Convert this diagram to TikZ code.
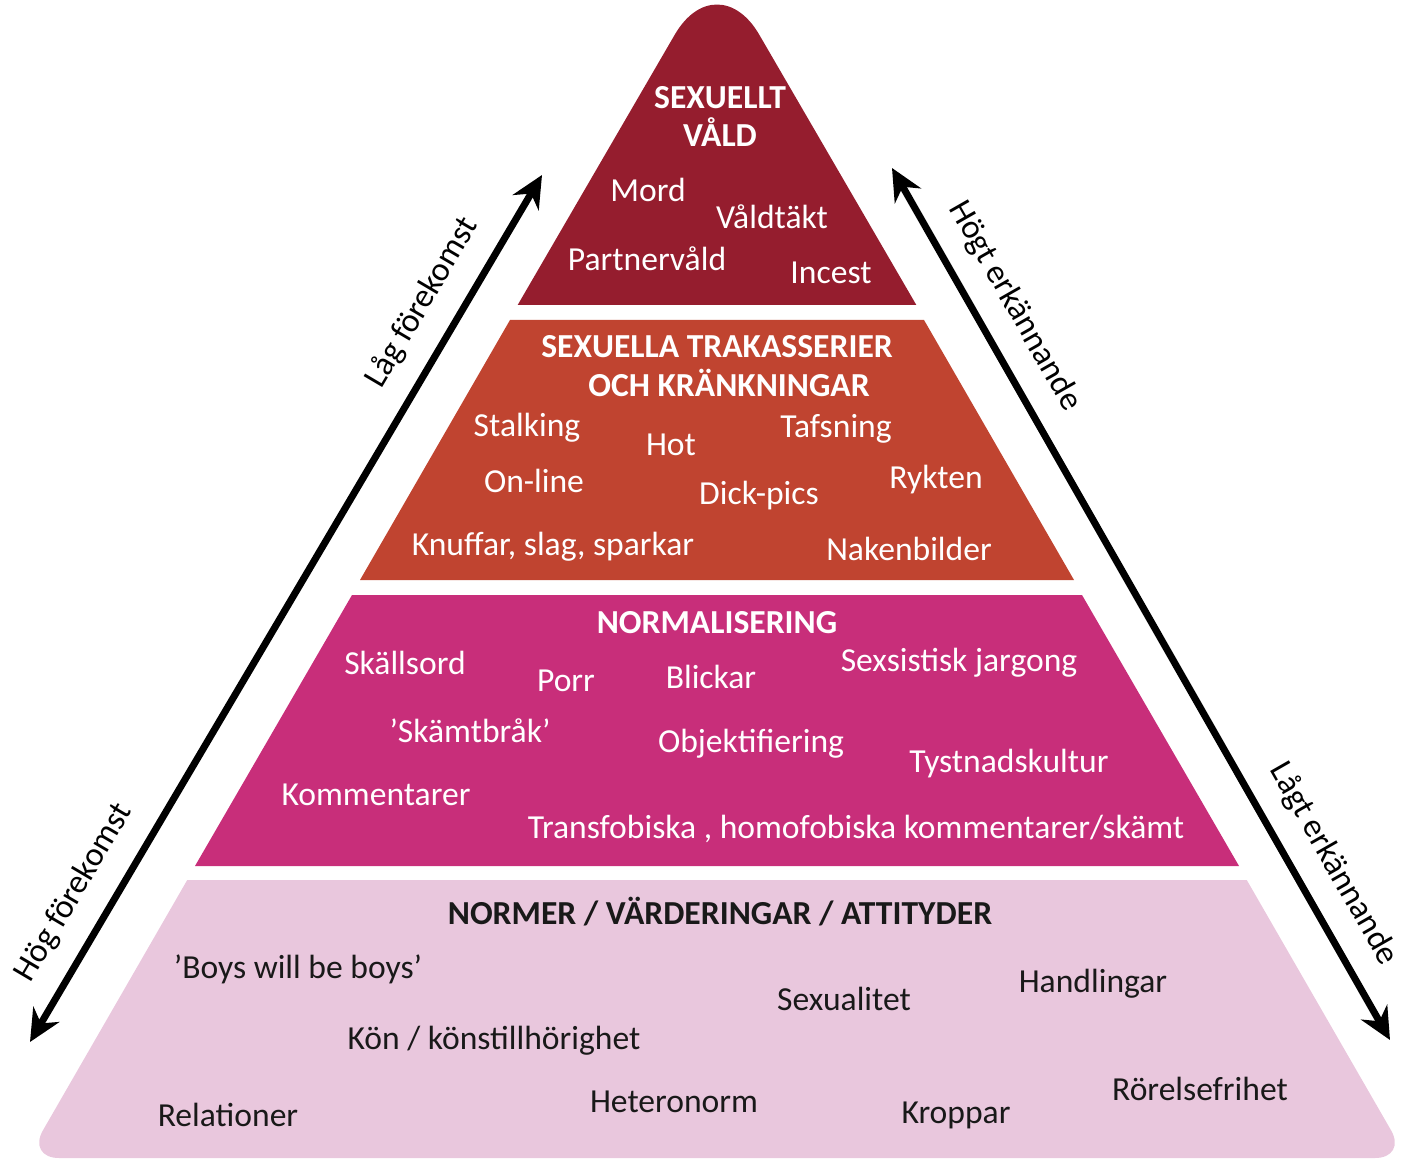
\documentclass[tikz,border=0pt]{standalone}
\usepackage{fontspec}
\setmainfont{Carlito}
\usetikzlibrary{arrows.meta}
\definecolor{valdred}{RGB}{149,29,46}
\definecolor{trakorange}{RGB}{192,68,48}
\definecolor{normmagenta}{RGB}{200,46,122}
\definecolor{normerpink}{RGB}{233,199,221}
\definecolor{inktext}{RGB}{25,25,25}

\begin{document}
\begin{tikzpicture}[x=0.5pt,y=-0.5pt,
  lbl/.style={font=\fontsize{16.8}{20}\selectfont,inner sep=0pt},
  wlbl/.style={lbl,text=white},
  whead/.style={wlbl,font=\fontsize{16.8}{20}\selectfont\bfseries},
  blbl/.style={lbl,text=inktext},
  bhead/.style={blbl,font=\fontsize{16.8}{20}\selectfont\bfseries},
  axis/.style={line width=3.5pt,{Stealth[length=16pt,width=15pt]}-{Stealth[length=16pt,width=15pt]}},
  axislbl/.style={lbl,sloped,above=10pt}]
\useasboundingbox (0,0) rectangle (1402,1160);
%
% layers of the pyramid
\begin{scope}
\clip (0,-60) rectangle (1402,305);
\fill[valdred,rounded corners=42pt] (717,-38) -- (230,800) -- (1204,800) -- cycle;
\end{scope}
\fill[trakorange] (510,320) -- (924,320) -- (1074,580) -- (360,580) -- cycle;
\fill[normmagenta] (352,595) -- (1082,595) -- (1239,866) -- (195,866) -- cycle;
\begin{scope}
\clip (0,880) rectangle (1402,1200);
\fill[normerpink,rounded corners=16pt] (291,700) -- (1143,700) -- (1407,1158) -- (27,1158) -- cycle;
\end{scope}
%
% sexuellt vald
\node[whead,align=center] (vald) at (720,116) {SEXUELLT\\[-1pt]VÅLD};
\node[wlbl] (mord) at (648,190) {Mord};
\node[wlbl] (valdtakt) at (772,217) {Våldtäkt};
\node[wlbl] (partner) at (647,259) {Partnervåld};
\node[wlbl] (incest) at (831,273) {Incest};
%
% trakasserier
\node[whead] (trak) at (717,347) {SEXUELLA TRAKASSERIER};
\node[whead] (krank) at (729,383) {OCH KRÄNKNINGAR};
\node[wlbl] (stalking) at (527,428) {Stalking};
\node[wlbl] (hot) at (671,445) {Hot};
\node[wlbl] (tafsning) at (836,429) {Tafsning};
\node[wlbl] (online) at (534,481) {On-line};
\node[wlbl] (dickpics) at (759,496) {Dick-pics};
\node[wlbl] (rykten) at (936,480) {Rykten};
\node[wlbl] (knuffar) at (553,547) {Knuffar, slag, sparkar};
\node[wlbl] (naken) at (909,549) {Nakenbilder};
%
% normalisering
\node[whead] (normal) at (717,623) {NORMALISERING};
\node[wlbl] (skallsord) at (405,663) {Skällsord};
\node[wlbl] (porr) at (566,681) {Porr};
\node[wlbl] (blickar) at (711,677) {Blickar};
\node[wlbl] (jargong) at (959,663) {Sexsistisk jargong};
\node[wlbl] (skamt) at (470,731) {’Skämtbråk’};
\node[wlbl] (objekt) at (751,744) {Objektifiering};
\node[wlbl] (tystnad) at (1009,764) {Tystnadskultur};
\node[wlbl] (komm) at (376,795) {Kommentarer};
\node[wlbl] (transfob) at (856,829) {Transfobiska , homofobiska kommentarer/skämt};
%
% normer
\node[bhead] (normer) at (720,912) {NORMER / VÄRDERINGAR / ATTITYDER};
\node[blbl] (boys) at (298,969) {’Boys will be boys’};
\node[blbl] (sexualitet) at (844,999) {Sexualitet};
\node[blbl] (handling) at (1093,984) {Handlingar};
\node[blbl] (kon) at (494,1041) {Kön / könstillhörighet};
\node[blbl] (relation) at (228,1115) {Relationer};
\node[blbl] (hetero) at (674,1102) {Heteronorm};
\node[blbl] (kroppar) at (956,1115) {Kroppar};
\node[blbl] (rorelse) at (1200,1089) {Rörelsefrihet};
%
% axes
\coordinate (hog) at (30,1042);
\coordinate (lag) at (542,175);
\draw[axis] (hog) -- (lag)
  node[axislbl,pos=0.15] {Hög förekomst}
  node[axislbl,pos=0.83] {Låg förekomst};
\coordinate (hogt) at (892,168);
\coordinate (lagt) at (1390,1040);
\draw[axis] (hogt) -- (lagt)
  node[axislbl,pos=0.18] {Högt erkännande}
  node[axislbl,pos=0.82] {Lågt erkännande};
\end{tikzpicture}
\end{document}
